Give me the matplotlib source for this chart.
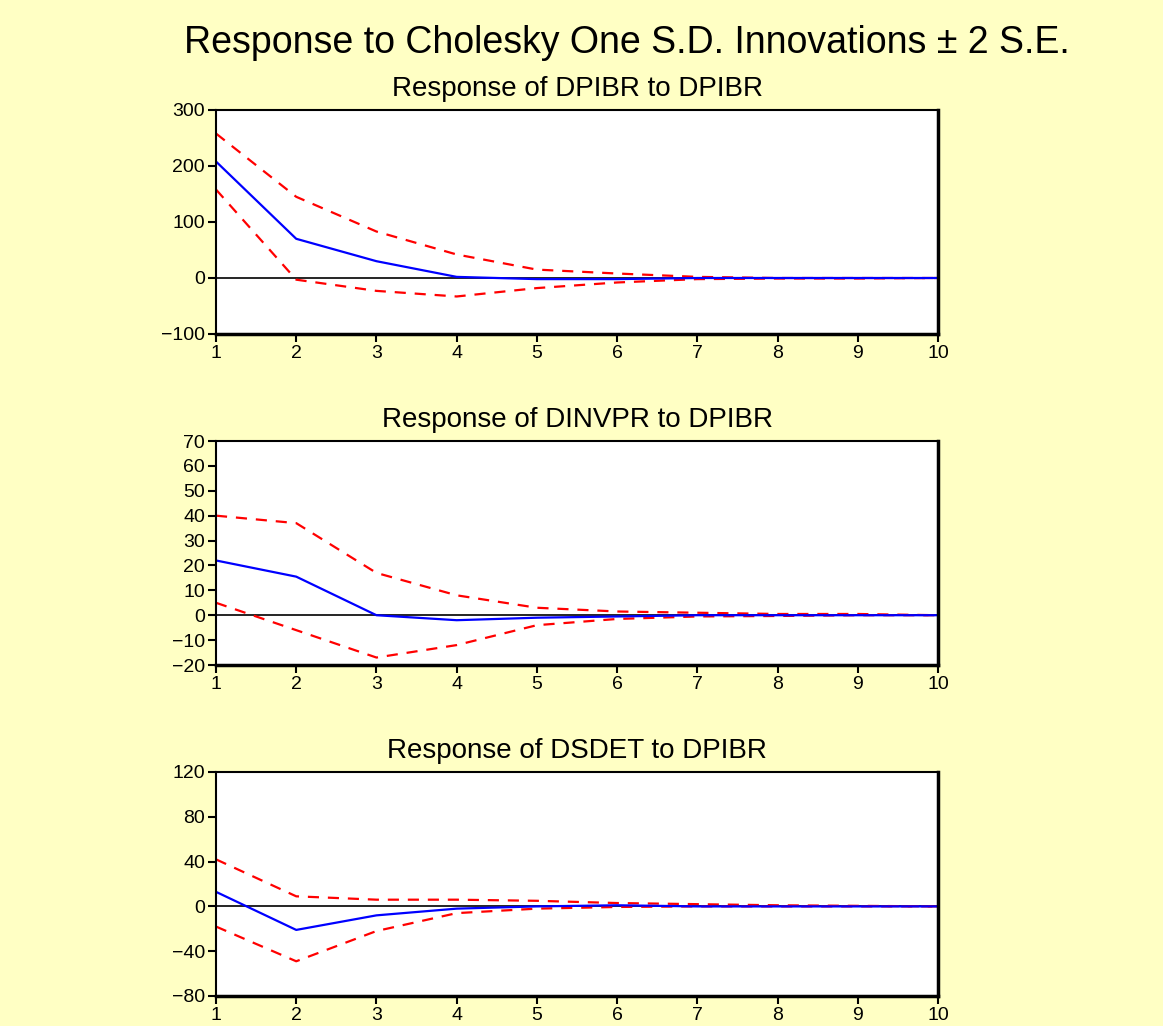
import matplotlib.pyplot as plt

# impulse-response periods
periods = [1, 2, 3, 4, 5, 6, 7, 8, 9, 10]

# Response of DPIBR to DPIBR
dpibr_resp = [208, 70, 30, 2, -2, -2, 0, 0, 0, 0]
dpibr_upper = [258, 145, 83, 42, 15, 8, 2, 0, 0, 0]
dpibr_lower = [158, -3, -23, -33, -18, -8, -2, -1, -1, 0]

# Response of DINVPR to DPIBR
dinvpr_resp = [22, 15.5, 0, -2, -1, -0.5, 0, 0, 0, 0]
dinvpr_upper = [40, 37, 17, 8, 3, 1.5, 1, 0.5, 0.5, 0]
dinvpr_lower = [5, -6, -17, -12, -4, -1.5, -0.5, -0.3, 0, 0]

# Response of DSDET to DPIBR
dsdet_resp = [13, -21, -8, -2, 0, 1, 0, 0, 0, 0]
dsdet_upper = [42, 9, 6, 6, 5, 3, 2, 1, 0.5, 0]
dsdet_lower = [-18, -49, -22, -6, -2, -0.5, 0, 0, 0, 0]

titles = ["Response of DPIBR to DPIBR",
          "Response of DINVPR to DPIBR",
          "Response of DSDET to DPIBR"]
yticks = [[-100, 0, 100, 200, 300],
          [-20, -10, 0, 10, 20, 30, 40, 50, 60, 70],
          [-80, -40, 0, 40, 80, 120]]


def draw_panel(ax, resp, upper, lower, title, ticks):
    ax.axhline(0, color="black", lw=1.2, zorder=1)
    ax.plot(periods, upper, color="red", ls=(0, (5, 4)), lw=1.6)
    ax.plot(periods, lower, color="red", ls=(0, (5, 4)), lw=1.6)
    ax.plot(periods, resp, color="blue", lw=1.6)
    ax.set_xlim(1, 10)
    ax.set_ylim(ticks[0], ticks[-1])
    ax.set_xticks(periods)
    ax.set_yticks(ticks)
    ax.set_facecolor("white")
    ax.tick_params(direction="out", length=6, width=1.5, labelsize=14,
                   colors="black", top=False, right=False, pad=2)
    for side in ["left", "top"]:
        ax.spines[side].set_linewidth(1.5)
    for side in ["right", "bottom"]:
        ax.spines[side].set_linewidth(2.5)
    ax.set_title(title, fontsize=20, pad=10)


def main():
    plt.rcParams["font.family"] = ["Liberation Sans", "DejaVu Sans"]
    fig = plt.figure(figsize=(11.63, 10.26), dpi=100, facecolor="#FFFFC4")
    left = 216 / 1163
    width = 722 / 1163
    height = 224 / 1026
    bottoms = [1 - 334 / 1026, 1 - 665 / 1026, 1 - 996 / 1026]
    data = [(dpibr_resp, dpibr_upper, dpibr_lower),
            (dinvpr_resp, dinvpr_upper, dinvpr_lower),
            (dsdet_resp, dsdet_upper, dsdet_lower)]
    for i in range(3):
        ax = fig.add_axes([left, bottoms[i], width, height])
        resp, up, lo = data[i]
        draw_panel(ax, resp, up, lo, titles[i], yticks[i])
    fig.text(0.539, 0.958, "Response to Cholesky One S.D. Innovations \u00b1 2 S.E.",
             ha="center", va="center", fontsize=27)
    fig.savefig("out.png", dpi=100, facecolor=fig.get_facecolor())


if __name__ == "__main__":
    main()
